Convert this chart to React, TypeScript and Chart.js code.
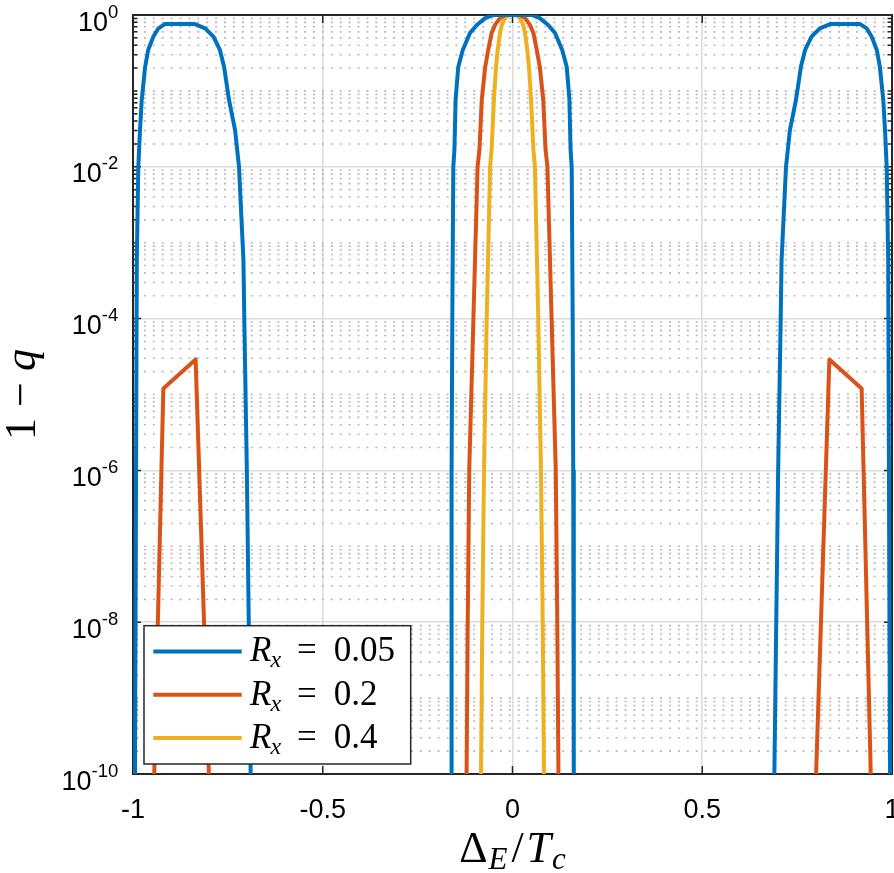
import React, { useEffect, useRef } from 'react';
import { Chart, registerables } from 'chart.js';

Chart.register(...registerables);

// ---- data ----
const seriesValues = ['0.05', '0.2', '0.4'];
const seriesColors = ['#0072BD', '#D95319', '#EDB120'];

const blueX = [
  -0.996, -0.9947, -0.99, -0.986, -0.9816, -0.977, -0.968, -0.96, -0.9466, -0.933, -0.916, -0.837,
  -0.81, -0.788, -0.771, -0.76, -0.747, -0.731, -0.7207, -0.709, -0.7067, -0.7, -0.69, -0.688,
  -0.164, -0.162, -0.161, -0.16, -0.1586, -0.156, -0.153, -0.15, -0.143, -0.131, -0.112, -0.094, -0.072, -0.051,
  0.051, 0.072, 0.094, 0.112, 0.131, 0.143, 0.15, 0.153, 0.156, 0.1586, 0.16, 0.161, 0.162, 0.164,
  0.688, 0.69, 0.7, 0.7067, 0.709, 0.7207, 0.731, 0.747, 0.76, 0.771, 0.788, 0.81,
  0.837, 0.916, 0.933, 0.9466, 0.96, 0.968, 0.977, 0.9816, 0.986, 0.99, 0.9947, 0.996,
];
const blueY = [
  1e-12, 1e-10, 5.9e-4, 1e-2, 3.05e-2, 7.6e-2, 2.08e-1, 3.46e-1, 5.18e-1, 6.68e-1, 7.6e-1, 7.6e-1,
  6.68e-1, 5.18e-1, 3.46e-1, 2.08e-1, 7.6e-2, 3.05e-2, 1e-2, 5.9e-4, 1e-4, 1e-6, 1e-10, 1e-12,
  1e-12, 1e-10, 1e-8, 1e-6, 1e-4, 1e-2, 1.7e-2, 7.6e-2, 2.06e-1, 3.46e-1, 5.8e-1, 7.4e-1, 9.1e-1, 1,
  1, 9.1e-1, 7.4e-1, 5.8e-1, 3.46e-1, 2.06e-1, 7.6e-2, 1.7e-2, 1e-2, 1e-4, 1e-6, 1e-8, 1e-10, 1e-12,
  1e-12, 1e-10, 1e-6, 1e-4, 5.9e-4, 1e-2, 3.05e-2, 7.6e-2, 2.08e-1, 3.46e-1, 5.18e-1, 6.68e-1,
  7.6e-1, 7.6e-1, 6.68e-1, 5.18e-1, 3.46e-1, 2.08e-1, 7.6e-2, 3.05e-2, 1e-2, 5.9e-4, 1e-10, 1e-12,
];

const redX = [
  -0.9535, -0.944, -0.92, -0.835, -0.8, -0.787,
  -0.124, -0.121, -0.118, -0.114, -0.103, -0.092, -0.087, -0.081, -0.072, -0.064, -0.055, -0.046, -0.033, -0.02,
  0.02, 0.033, 0.046, 0.055, 0.064, 0.072, 0.081, 0.087, 0.092, 0.103, 0.114, 0.118, 0.121, 0.124,
  0.787, 0.8, 0.835, 0.92, 0.944, 0.9535,
];
const redY = [
  1e-12, 1e-10, 1.2e-5, 2.9e-5, 1e-10, 1e-12,
  1e-12, 1e-10, 1e-8, 1e-6, 1e-4, 1e-2, 1.7e-2, 7.6e-2, 2.06e-1, 3.46e-1, 5.8e-1, 7.4e-1, 9.1e-1, 1,
  1, 9.1e-1, 7.4e-1, 5.8e-1, 3.46e-1, 2.06e-1, 7.6e-2, 1.7e-2, 1e-2, 1e-4, 1e-6, 1e-8, 1e-10, 1e-12,
  1e-12, 1e-10, 2.9e-5, 1.2e-5, 1e-10, 1e-12,
];

const yellowX = [
  -0.086, -0.083, -0.0796, -0.075, -0.068, -0.059, -0.055, -0.049, -0.0435, -0.039, -0.033, -0.028, -0.02, -0.01,
  0.01, 0.02, 0.028, 0.033, 0.039, 0.0435, 0.049, 0.055, 0.059, 0.068, 0.075, 0.0796, 0.083, 0.086,
];
const yellowY = [
  1e-12, 1e-10, 1e-8, 1e-6, 1e-4, 1e-2, 1.7e-2, 7.6e-2, 2.06e-1, 3.46e-1, 5.8e-1, 7.4e-1, 9.1e-1, 1,
  1, 9.1e-1, 7.4e-1, 5.8e-1, 3.46e-1, 2.06e-1, 7.6e-2, 1.7e-2, 1e-2, 1e-4, 1e-6, 1e-8, 1e-10, 1e-12,
];

const xTicks = [-1, -0.5, 0, 0.5, 1];
const xTickLabels = ['-1', '-0.5', '0', '0.5', '1'];
const yExponents = [0, -2, -4, -6, -8, -10];
const yDecades = [-10, -9, -8, -7, -6, -5, -4, -3, -2, -1];
const yMantissas = [1, 2, 3, 4, 5, 6, 7, 8, 9];

const yMajor = yExponents.map((e) => Math.pow(10, e));
const yMinor: number[] = [];
yDecades.forEach((d) => {
  yMantissas.forEach((m) => {
    if (m === 1 && yExponents.includes(d)) return;
    yMinor.push(m * Math.pow(10, d));
  });
});

const zip = (xs: number[], ys: number[]) => xs.map((x, i) => ({ x, y: ys[i] }));

const AXIS = '#262626';
const SANS = '"Liberation Sans", Arial, Helvetica, sans-serif';
const SERIF = '"Liberation Serif", "Times New Roman", serif';

const matlabPlugin = {
  id: 'matlabLook',
  beforeDatasetsDraw(chart: any) {
    const { ctx, chartArea: a, scales } = chart;
    const y = scales.y;
    const x = scales.x;
    ctx.save();
    ctx.beginPath();
    ctx.rect(a.left, a.top, a.right - a.left, a.bottom - a.top);
    ctx.clip();
    ctx.strokeStyle = '#b8b8b8';
    ctx.lineWidth = 1.6;
    ctx.setLineDash([2, 6.9]);
    yMinor.forEach((v) => {
      const py = y.getPixelForValue(v);
      ctx.beginPath();
      ctx.moveTo(a.left + 2, py);
      ctx.lineTo(a.right, py);
      ctx.stroke();
    });
    ctx.restore();

    ctx.save();
    ctx.strokeStyle = AXIS;
    ctx.lineWidth = 1.5;
    const tick = (v: number, len: number) => {
      const py = y.getPixelForValue(v);
      ctx.beginPath();
      ctx.moveTo(a.left, py);
      ctx.lineTo(a.left + len, py);
      ctx.moveTo(a.right, py);
      ctx.lineTo(a.right - len, py);
      ctx.stroke();
    };
    yMajor.forEach((v) => tick(v, 8));
    yMinor.forEach((v) => tick(v, 4.5));
    xTicks.forEach((v) => {
      const px = x.getPixelForValue(v);
      ctx.beginPath();
      ctx.moveTo(px, a.bottom);
      ctx.lineTo(px, a.bottom - 8);
      ctx.moveTo(px, a.top);
      ctx.lineTo(px, a.top + 8);
      ctx.stroke();
    });
    ctx.lineWidth = 2;
    ctx.strokeRect(a.left, a.top, a.right - a.left, a.bottom - a.top);
    ctx.restore();
  },
  afterDraw(chart: any) {
    const { ctx, chartArea: a, scales } = chart;
    const y = scales.y;
    const x = scales.x;
    ctx.save();
    ctx.fillStyle = '#000';
    ctx.textBaseline = 'alphabetic';
    // y tick labels 10^e
    yExponents.forEach((e) => {
      const py = y.getPixelForValue(Math.pow(10, e));
      const right = a.left - 14.7;
      ctx.font = `18.5px ${SANS}`;
      const sup = String(e);
      const wSup = ctx.measureText(sup).width;
      ctx.textAlign = 'left';
      ctx.fillText(sup, right - wSup, py + 2.5);
      ctx.font = `27px ${SANS}`;
      const wTen = ctx.measureText('10').width;
      ctx.fillText('10', right - wSup - wTen, py + 15.5);
    });
    // x tick labels
    ctx.font = `27px ${SANS}`;
    ctx.textAlign = 'center';
    xTicks.forEach((v, i) => {
      ctx.fillText(xTickLabels[i], x.getPixelForValue(v), 818.3);
    });

    // x axis title: Delta_E / T_c
    const big = 44;
    const sub = 31;
    const pieces = [
      { t: '\u0394', f: `${big}px ${SERIF}`, dy: 0, gap: 0 },
      { t: 'E', f: `italic ${sub}px ${SERIF}`, dy: 7, gap: 1 },
      { t: '/', f: `${big}px ${SERIF}`, dy: 0, gap: 4 },
      { t: 'T', f: `italic ${big}px ${SERIF}`, dy: 0, gap: 3 },
      { t: 'c', f: `italic ${sub}px ${SERIF}`, dy: 7, gap: 1 },
    ];
    let total = 0;
    const widths = pieces.map((p) => {
      ctx.font = p.f;
      const w = ctx.measureText(p.t).width;
      total += w + p.gap;
      return w;
    });
    let cx = (a.left + a.right) / 2 - total / 2;
    ctx.textAlign = 'left';
    pieces.forEach((p, i) => {
      cx += p.gap;
      ctx.font = p.f;
      ctx.fillText(p.t, cx, 862 + p.dy);
      cx += widths[i];
    });

    // y axis title: 1 - q (rotated)
    ctx.save();
    ctx.translate(35, (a.top + a.bottom) / 2);
    ctx.rotate(-Math.PI / 2);
    const yp = [
      { t: '1', f: `${big}px ${SERIF}`, gap: 0 },
      { t: '\u2212', f: `${big}px ${SERIF}`, gap: 11 },
      { t: 'q', f: `italic ${big}px ${SERIF}`, gap: 11 },
    ];
    let yt = 0;
    const yw = yp.map((p) => {
      ctx.font = p.f;
      const w = ctx.measureText(p.t).width;
      yt += w + p.gap;
      return w;
    });
    let yx = -yt / 2;
    yp.forEach((p, i) => {
      yx += p.gap;
      ctx.font = p.f;
      ctx.fillText(p.t, yx, 0);
      yx += yw[i];
    });
    ctx.restore();

    // legend
    const lx = a.left + 11;
    const lw = 266.7;
    const lh = 138.3;
    const ly = a.bottom - 10 - lh;
    ctx.fillStyle = '#ffffff';
    ctx.fillRect(lx, ly, lw, lh);
    ctx.strokeStyle = AXIS;
    ctx.lineWidth = 1.5;
    ctx.strokeRect(lx, ly, lw, lh);
    seriesValues.forEach((val, i) => {
      const rowY = ly + 25.7 + i * 43.3;
      ctx.strokeStyle = seriesColors[i];
      ctx.lineWidth = 4;
      ctx.beginPath();
      ctx.moveTo(lx + 9.3, rowY);
      ctx.lineTo(lx + 97.7, rowY);
      ctx.stroke();
      ctx.fillStyle = '#000';
      let tx = lx + 106;
      const base = rowY + 10;
      ctx.font = `italic 35px ${SERIF}`;
      ctx.fillText('R', tx, base);
      tx += ctx.measureText('R').width - 1;
      ctx.font = `italic 24px ${SERIF}`;
      ctx.fillText('x', tx, base + 6);
      tx += ctx.measureText('x').width + 16;
      ctx.font = `35px ${SERIF}`;
      ctx.fillText('=', tx, base);
      tx += ctx.measureText('=').width + 17;
      ctx.fillText(val, tx, base);
    });
    ctx.restore();
  },
};

export default function App() {
  const ref = useRef<HTMLCanvasElement | null>(null);
  useEffect(() => {
    if (!ref.current) return;
    const chart = new Chart(ref.current, {
      type: 'line',
      data: {
        datasets: [
          { label: 'R_x = 0.05', data: zip(blueX, blueY) },
          { label: 'R_x = 0.2', data: zip(redX, redY) },
          { label: 'R_x = 0.4', data: zip(yellowX, yellowY) },
        ].map((d, i) => ({
          ...d,
          borderColor: seriesColors[i],
          backgroundColor: seriesColors[i],
          borderWidth: 4,
          pointRadius: 0,
          pointHoverRadius: 0,
          fill: false,
          tension: 0,
          borderJoinStyle: 'round' as const,
          borderCapStyle: 'round' as const,
        })),
      },
      options: {
        animation: false,
        responsive: false,
        events: [],
        layout: { padding: { top: 15, right: 2, left: 0, bottom: 0 } },
        plugins: { legend: { display: false }, tooltip: { enabled: false } },
        scales: {
          x: {
            type: 'linear',
            min: -1,
            max: 1,
            afterBuildTicks: (s: any) => {
              s.ticks = xTicks.map((v) => ({ value: v }));
            },
            afterFit: (s: any) => {
              s.height = 99;
            },
            ticks: { display: false },
            grid: {
              drawTicks: false,
              color: (c: any) => (Math.abs(c.tick.value) === 1 ? 'rgba(0,0,0,0)' : '#dcdcdc'),
              lineWidth: 1.6,
            },
            border: { display: false },
          },
          y: {
            type: 'logarithmic',
            min: 1e-10,
            max: 1,
            afterBuildTicks: (s: any) => {
              s.ticks = yMajor.map((v) => ({ value: v }));
            },
            afterFit: (s: any) => {
              s.width = 133;
            },
            ticks: { display: false },
            grid: {
              drawTicks: false,
              color: (c: any) =>
                c.tick.value === 1 || c.tick.value === 1e-10 ? 'rgba(0,0,0,0)' : '#dcdcdc',
              lineWidth: 1.6,
            },
            border: { display: false },
          },
        },
      },
      plugins: [matlabPlugin],
    });
    return () => chart.destroy();
  }, []);
  return (
    <div style={{ position: 'absolute', left: 0, top: 0, width: 894, height: 873, background: '#fff' }}>
      <canvas ref={ref} width={894} height={873} style={{ display: 'block' }} />
    </div>
  );
}
